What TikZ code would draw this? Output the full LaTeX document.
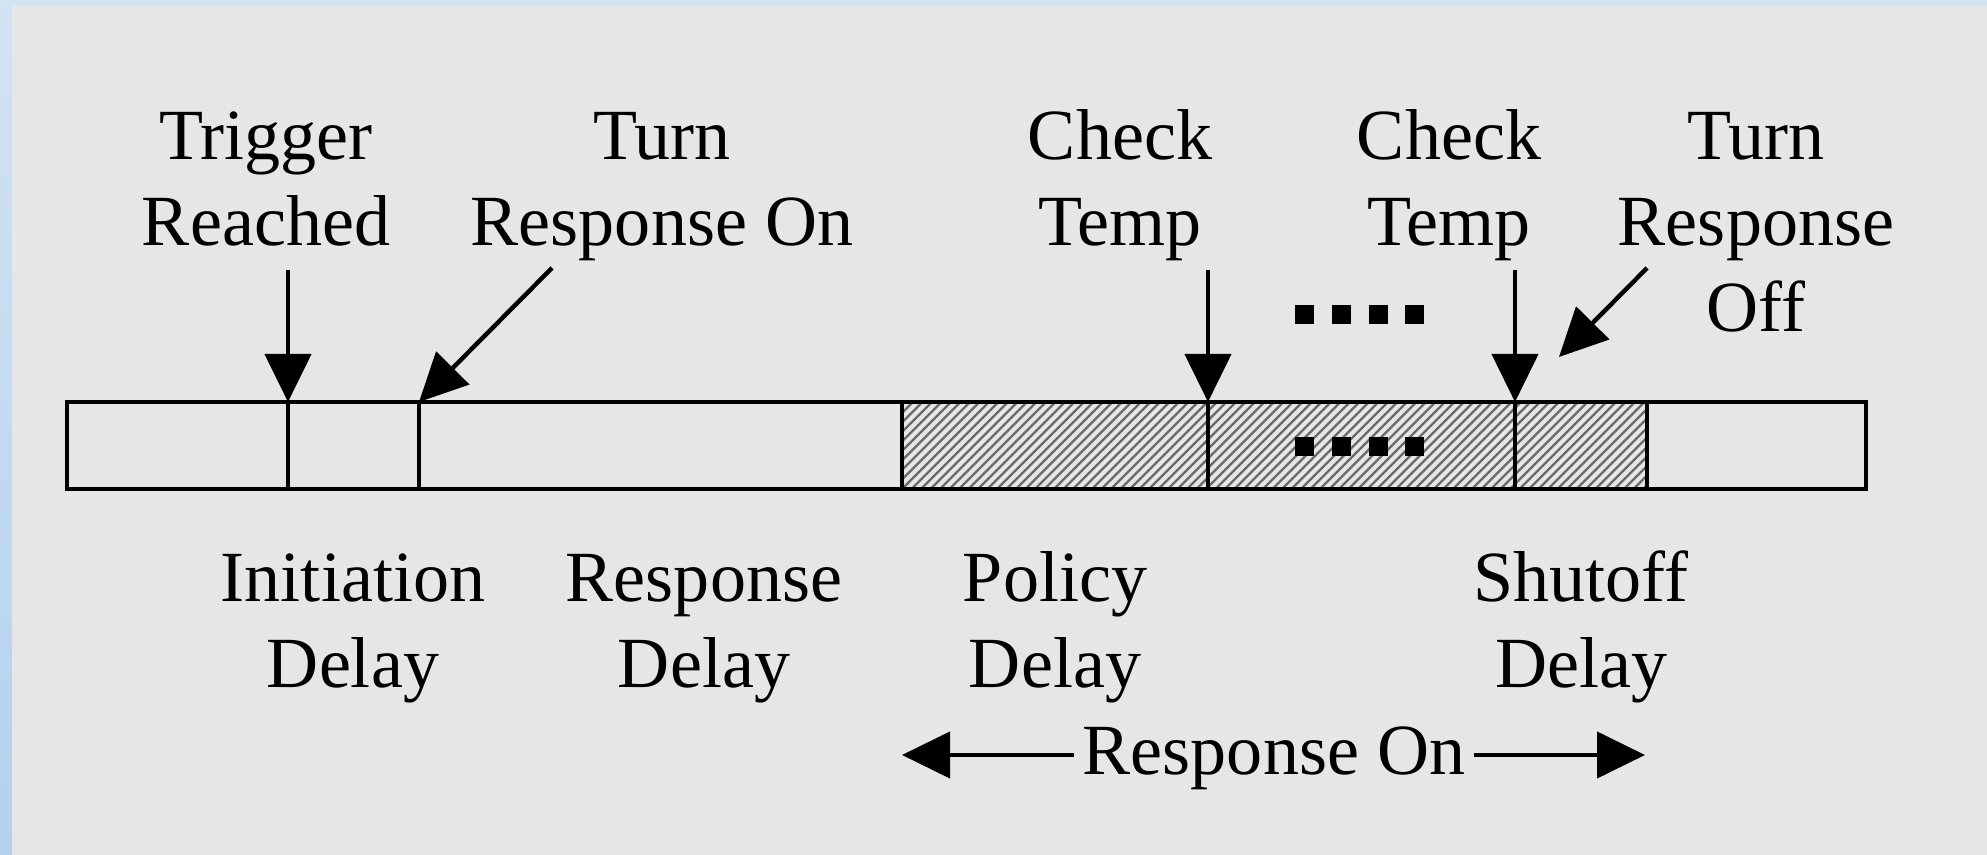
\documentclass[tikz,border=0pt]{standalone}
\usepackage{fontspec}
\setmainfont{Liberation Serif}
\usepackage{tikz}
\usepackage{xcolor}
\usetikzlibrary{arrows.meta,calc}

\definecolor{panelgray}{HTML}{E6E6E6}
\definecolor{frametop}{HTML}{D2E3F3}
\definecolor{framebot}{HTML}{B3D2EC}
\definecolor{hatchgray}{HTML}{6A6A6A}

\tikzset{
  lbl/.style={align=center, inner sep=0pt},
  bigtip/.style={-{Triangle[length=4.8mm,width=4.6mm]}},
  hatchline/.style={hatchgray, line width=0.24mm},
}

\begin{document}
\begin{tikzpicture}[x=0.1mm, y=-0.1mm, line width=0.44mm,
    font=\fontsize{20.5}{24.5}\selectfont]
  % ---------- backdrop ----------
  \useasboundingbox (0,0) rectangle (1987,855);
  \shade[top color=frametop, bottom color=framebot] (0,0) rectangle (1987,855);
  \fill[panelgray] (12,5) rectangle (1987,855);

  % ---------- time bar ----------
  \def\ytop{402}
  \def\ybot{489}
  \foreach \n/\x in {0/67, 1/288, 2/419, 3/902, 4/1208, 5/1515, 6/1647, 7/1866} {
    \coordinate (t\n) at (\x,\ytop);
    \coordinate (u\n) at (\x,\ybot);
  }

  % hatched part: response running
  \begin{scope}
    \clip (t3) rectangle (u6);
    \foreach \k in {0,...,90}
      \draw[hatchline] (807+\k*9.5,\ybot) -- ++(95,-95);
  \end{scope}

  \draw (t0) rectangle (u7);
  \foreach \n in {1,2,3,4,5,6}
    \draw (t\n) -- (u\n);

  % ---------- events above the bar (base = last line) ----------
  \node[lbl, anchor=base] (trig) at (266,246) {Trigger\\Reached};
  \node[lbl, anchor=base] (ron)  at (662,246) {Turn\\Response On};
  \node[lbl, anchor=base] (chk1) at (1120,246) {Check\\Temp};
  \node[lbl, anchor=base] (chk2) at (1449,246) {Check\\Temp};
  \node[lbl, anchor=base] (roff) at (1756,332) {Turn\\Response\\Off};

  \coordinate (trigtail) at (288,270);
  \coordinate (rontail)  at (552,268);
  \coordinate (chk1tail) at (1208,270);
  \coordinate (chk2tail) at (1515,270);
  \coordinate (rofftail) at (1647,268);
  \coordinate (rofftip)  at (1559,357);

  \draw[bigtip] (trigtail) -- (t1);
  \draw[bigtip] (rontail) -- (t2);
  \draw[bigtip] (chk1tail) -- (t4);
  \draw[bigtip] (chk2tail) -- (t5);
  \draw[bigtip] (rofftail) -- (rofftip);

  % more checks in between
  \foreach \x in {1295,1332,1369,1405} {
    \fill (\x,305) rectangle ++(19,19);
    \fill (\x,437) rectangle ++(19,19);
  }

  % ---------- delays below the bar ----------
  \node[lbl, anchor=base] (init) at (353,688) {Initiation\\Delay};
  \node[lbl, anchor=base] (resp) at (704,688) {Response\\Delay};
  \node[lbl, anchor=base] (pol)  at (1055,688) {Policy\\Delay};
  \node[lbl, anchor=base] (shut) at (1581,688) {Shutoff\\Delay};

  % span of the running response
  \node[lbl, anchor=base, inner xsep=2pt] (span) at (1274,775) {Response On};
  \coordinate (spanl) at (902,755);
  \coordinate (spanr) at (1645,755);
  \draw[bigtip] (span.west |- spanl) -- (spanl);
  \draw[bigtip] (span.east |- spanr) -- (spanr);
\end{tikzpicture}
\end{document}
